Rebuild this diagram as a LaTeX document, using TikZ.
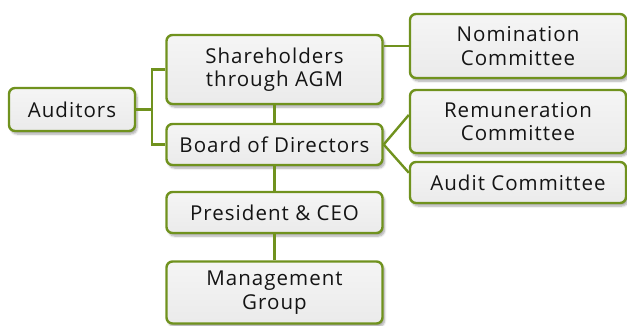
\documentclass[tikz,border=0pt]{standalone}
\usepackage{fontspec}
\setmainfont[LetterSpace=5]{Open Sans}
\usetikzlibrary{calc,shadows.blur}
\definecolor{grn}{RGB}{112,146,30}
\definecolor{txt}{RGB}{20,20,20}
\tikzset{
  box/.style={draw=grn, line width=2.4pt, rounded corners=6pt,
    top color=white!92!gray, bottom color=gray!16,
    blur shadow={shadow xshift=2pt, shadow yshift=-3pt, shadow blur steps=6, shadow opacity=35},
    text=txt, font=\fontsize{20.5}{23.5}\selectfont, align=center, inner sep=0pt},
  conn/.style={draw=grn, line width=2.4pt}
}
\begin{document}
\begin{tikzpicture}[x=1pt,y=-1pt]
\useasboundingbox (0,0) rectangle (627,325);
\node[box, minimum width=126pt, minimum height=43pt] (aud) at (72,109.5) {Auditors};
\node[box, minimum width=216pt, minimum height=69pt] (sh) at (274.5,69.5) {Shareholders\\through AGM};
\node[box, minimum width=216pt, minimum height=41pt] (bd) at (274.5,144.5) {Board of Directors};
\node[box, minimum width=216pt, minimum height=64pt] (nom) at (518,46) {Nomination\\Committee};
\node[box, minimum width=216pt, minimum height=63pt] (rem) at (518,121.5) {Remuneration\\Committee};
\node[box, minimum width=216pt, minimum height=41pt] (ac) at (518,182.5) {Audit Committee};
\node[box, minimum width=216pt, minimum height=41pt] (pres) at (274.5,212.5) {President \& CEO};
\node[box, minimum width=216pt, minimum height=62pt] (mg) at (274.5,292.5) {Management\\Group};
\coordinate (br) at (152,109.5);
\draw[conn] (aud.east) -- (br);
\draw[conn] (sh.west) -| (br) |- (bd.west);
\draw[conn] (nom.west) -- (nom.west -| sh.east);
\draw[conn] (bd.east) -- ($(rem.west)!0.2!(rem.north west)$);
\draw[conn] (bd.east) -- ($(ac.west)!0.45!(ac.north west)$);
\draw[conn] (sh.south) -- (bd.north);
\draw[conn] (bd.south) -- (pres.north);
\draw[conn] (pres.south) -- (mg.north);
\end{tikzpicture}
\end{document}
